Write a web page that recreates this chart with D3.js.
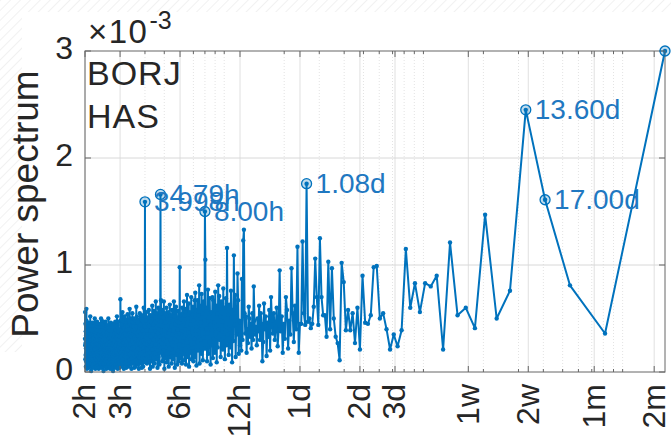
<!DOCTYPE html>
<html><head><meta charset="utf-8">
<script src="https://cdn.jsdelivr.net/npm/d3@7"></script>
<style>
body{margin:0;background:#fff}
svg{display:block}
text{font-family:"Liberation Sans",Arial,Helvetica,sans-serif}
</style>
</head><body>
<svg id="chart" width="671" height="438"></svg>
<script>
// Record length in hours (68 days); harmonic k has period recordHours / k.
const recordHours = 1632;

// Periodogram power for harmonics k = 1 .. 816, in units of 1e-5.
const powerE5 = [
  // k = 1 .. 70 (periods longer than ~1 day)
  300,36,81,161,245,76,50,147,41,60,
  53,121,21,90,80,83,56,83,60,115,
  39,24,35,21,40,55,50,99,98,53,
  45,46,90,21,60,27,55,39,58,39,
  84,102,11,27,33,50,97,40,103,33,
  53,53,70,125,44,70,106,61,45,41,
  50,47,176,44,55,122,45,45,18,117,
  // k = 71 .. 136 (12 h .. 1 d)
  40,62,28,55,97,35,48,22,58,70,
  31,45,18,52,38,95,40,24,60,42,
  30,55,36,48,70,20,58,33,46,15,
  52,40,64,28,10,45,55,30,62,38,
  50,25,42,35,48,80,30,55,22,45,
  33,50,61,27,40,18,52,36,55,133,
  123,30,87,20,46,25,
  // k = 137 .. 204 (8 h .. 12 h)
  48,17,67,92,35,52,14,72,44,109,
  29,58,9,51,76,23,40,63,16,54,
  35,116,25,69,43,12,60,32,78,21,
  47,38,66,14,52,30,71,40,81,23,
  55,9,62,35,75,18,46,31,67,13,
  70,39,25,56,7,44,69,28,51,17,
  77,36,10,60,41,22,105,150,
  // k = 205 .. 272 (6 h .. 8 h)
  48,22,66,32,11,55,40,73,17,46,
  30,62,8,81,36,53,20,67,28,42,
  6,58,35,74,14,67,31,48,10,61,
  23,41,54,12,70,26,44,18,56,34,
  5,64,37,24,50,14,72,30,43,7,
  59,22,40,53,11,66,32,17,47,25,
  60,8,38,54,19,35,49,13,
  // k = 273 .. 408 (4 h .. 6 h)
  98,26,46,10,36,57,20,40,7,51,
  29,16,61,34,23,44,4,52,31,66,
  18,38,12,48,25,58,35,8,43,21,
  53,30,14,63,39,22,47,5,36,56,
  26,17,49,33,9,60,29,40,13,46,
  23,55,34,3,39,66,20,31,51,16,
  35,10,58,27,43,18,67,38,166,47,
  23,33,7,52,29,40,14,60,25,36,
  4,48,31,20,55,12,42,66,26,17,
  46,34,8,51,22,38,57,13,30,44,
  5,35,62,21,27,49,10,39,25,53,
  16,33,3,47,29,18,43,58,23,9,
  36,51,14,31,46,21,8,39,26,56,
  17,35,12,48,27,159,
  // k = 409 .. 544 (3 h .. 4 h)
  33,16,43,9,26,60,20,36,5,47,
  23,13,39,29,4,53,18,33,12,44,
  25,8,35,17,55,27,10,40,21,3,
  49,31,14,38,7,46,22,34,16,52,
  26,9,61,30,18,42,5,36,25,12,
  48,20,31,4,39,14,50,23,34,8,
  43,27,17,55,10,35,21,46,3,29,
  39,13,50,22,7,33,18,44,59,26,
  9,38,16,47,30,5,40,23,12,35,
  54,20,31,8,43,14,26,49,4,34,
  21,39,10,29,46,17,7,36,25,52,
  13,31,3,42,22,35,9,47,18,27,
  56,12,39,23,5,33,16,44,26,8,
  38,21,48,68,14,30,
  // k = 545 .. 816 (2 h .. 3 h)
  25,10,35,18,4,29,40,13,22,7,
  33,47,16,26,3,38,20,9,30,52,
  14,23,5,34,17,43,12,27,21,8,
  47,18,31,4,25,39,13,22,10,36,
  16,45,7,29,20,1,34,23,12,42,
  17,26,45,9,31,21,5,38,14,25,
  46,8,30,18,35,3,22,13,44,27,
  10,33,17,7,39,21,29,12,50,16,
  25,4,35,20,9,31,43,14,23,8,
  36,18,26,3,44,13,30,21,10,34,
  47,17,25,5,40,22,12,29,18,46,
  8,33,16,23,1,38,20,27,10,44,
  14,25,7,35,17,31,48,12,21,4,
  29,39,16,50,23,9,33,18,26,5,
  43,13,22,36,8,27,17,45,10,31,
  20,3,38,14,25,34,9,18,42,12,
  29,21,4,35,16,47,23,8,30,13,
  39,20,7,26,17,45,10,33,22,3,
  36,14,27,18,50,9,25,12,34,21,
  5,40,16,29,23,8,44,13,31,20,
  4,38,17,26,10,46,22,14,33,7,
  25,39,18,12,30,1,35,21,16,43,
  9,27,20,52,13,23,5,34,17,29,
  10,40,22,8,31,14,36,4,26,18,
  46,12,25,33,7,21,39,16,29,9,
  35,20,3,43,23,13,30,48,59,18,
  10,34,22,5,38,16,27,45,12,25,
  56,31
];

// Axis ticks
const xTickHours  = [2, 3, 6, 12, 24, 48, 72, 168, 336, 720, 1440];
const xTickLabels = ["2h", "3h", "6h", "12h", "1d", "2d", "3d", "1w", "2w", "1m", "2m"];
const yTickValues = [0, 1e-3, 2e-3, 3e-3];
const yTickLabels = ["0", "1", "2", "3"];

// Highlighted spectral peaks (harmonic number) and their period labels;
// the 68-day peak sits on the right edge and carries no visible label.
const peakHarmonics = [1, 4, 5, 63, 204, 341, 408];
const peakLabels    = [null, "17.00d", "13.60d", "1.08d", "8.00h", "4.79h", "3.998h"];

// Station / component annotation
const stationLines = ["BORJ", "HAS"];

const BLUE = "#0072BD";
const INK = "#262626";
const svg = d3.select("#chart");

const x = d3.scaleLog().domain([2, recordHours]).range([85, 665]);
const y = d3.scaleLinear().domain([0, 3e-3]).range([372, 51]);
const [x0, x1] = x.range();
const [yb, yt] = y.range();

const series = powerE5.map((v, i) => ({ period: recordHours / (i + 1), power: v * 1e-5 }));

// faint hatched paper texture along the top and left margins
const defs = svg.append("defs");
const pat = defs.append("pattern").attr("id", "hatch").attr("patternUnits", "userSpaceOnUse")
  .attr("width", 7).attr("height", 7).attr("patternTransform", "rotate(45)");
pat.append("line").attr("x1", 0).attr("y1", 0).attr("x2", 0).attr("y2", 7)
  .attr("stroke", "#d9d9d9").attr("stroke-width", 1.2);
svg.append("rect").attr("x", 0).attr("y", 0).attr("width", 671).attr("height", 12).attr("fill", "url(#hatch)").attr("opacity", 0.6);
svg.append("rect").attr("x", 0).attr("y", 12).attr("width", 22).attr("height", 340).attr("fill", "url(#hatch)").attr("opacity", 0.6);

// grid
const minorHours = x.ticks().filter(t => !xTickHours.includes(t));
const grid = svg.append("g");
grid.selectAll("line.minor").data(minorHours).join("line")
  .attr("x1", d => x(d)).attr("x2", d => x(d)).attr("y1", yt).attr("y2", yb)
  .attr("stroke", "#e3e3e3").attr("stroke-width", 1).attr("stroke-dasharray", "1,2");
grid.selectAll("line.vmaj").data(xTickHours).join("line")
  .attr("x1", d => x(d)).attr("x2", d => x(d)).attr("y1", yt).attr("y2", yb)
  .attr("stroke", "#e0e0e0").attr("stroke-width", 1);
grid.selectAll("line.hmaj").data(yTickValues.slice(1, -1)).join("line")
  .attr("x1", x0).attr("x2", x1).attr("y1", d => y(d)).attr("y2", d => y(d))
  .attr("stroke", "#d8d8d8").attr("stroke-width", 1);

// spectrum line with point markers
const plot = svg.append("g");
plot.append("path").datum(series)
  .attr("d", d3.line().x(d => x(d.period)).y(d => y(d.power)))
  .attr("fill", "none").attr("stroke", BLUE).attr("stroke-width", 2).attr("stroke-linejoin", "round");
plot.selectAll("circle.pt").data(series).join("circle")
  .attr("cx", d => x(d.period)).attr("cy", d => y(d.power)).attr("r", 2.2).attr("fill", BLUE);

// box and ticks
const axis = svg.append("g").attr("stroke", "#666").attr("fill", "none");
axis.append("rect").attr("x", x0).attr("y", yt).attr("width", x1 - x0).attr("height", yb - yt).attr("stroke-width", 1);
xTickHours.forEach(h => {
  axis.append("line").attr("x1", x(h)).attr("x2", x(h)).attr("y1", yb).attr("y2", yb - 6);
  axis.append("line").attr("x1", x(h)).attr("x2", x(h)).attr("y1", yt).attr("y2", yt + 6);
});
minorHours.forEach(h => {
  axis.append("line").attr("x1", x(h)).attr("x2", x(h)).attr("y1", yb).attr("y2", yb - 3);
  axis.append("line").attr("x1", x(h)).attr("x2", x(h)).attr("y1", yt).attr("y2", yt + 3);
});
yTickValues.forEach(v => {
  axis.append("line").attr("x1", x0).attr("x2", x0 + 6).attr("y1", y(v)).attr("y2", y(v));
  axis.append("line").attr("x1", x1).attr("x2", x1 - 6).attr("y1", y(v)).attr("y2", y(v));
});

// peak markers and labels
const peaks = peakHarmonics.map((k, i) => ({ ...series[k - 1], label: peakLabels[i] }));
const pk = svg.append("g");
pk.selectAll("circle").data(peaks).join("circle")
  .attr("cx", d => x(d.period)).attr("cy", d => y(d.power)).attr("r", 5)
  .attr("fill", "rgba(0,114,189,0.25)").attr("stroke", BLUE).attr("stroke-width", 1.3);
pk.selectAll("text").data(peaks.filter(d => d.label)).join("text")
  .attr("x", d => x(d.period) + 9).attr("y", d => y(d.power) + 2)
  .attr("dominant-baseline", "middle")
  .attr("font-size", 28).attr("fill", "#1f78c1").text(d => d.label);

// tick labels
svg.append("g").selectAll("text").data(xTickHours).join("text")
  .attr("transform", d => `translate(${x(d) + 2},384) rotate(-90)`)
  .attr("text-anchor", "end").attr("dominant-baseline", "middle")
  .attr("font-size", 32).attr("fill", INK)
  .text((d, i) => xTickLabels[i]);
svg.append("g").selectAll("text").data(yTickValues).join("text")
  .attr("x", 73).attr("y", d => y(d)).attr("text-anchor", "end").attr("dominant-baseline", "middle")
  .attr("font-size", 32).attr("fill", INK)
  .text((d, i) => yTickLabels[i]);

// exponent
const ex = svg.append("text").attr("x", 88).attr("y", 43).attr("font-size", 33).attr("fill", INK);
ex.append("tspan").attr("letter-spacing", 1.5).text("\u00d710");
ex.append("tspan").attr("dx", 1).attr("dy", -14).attr("font-size", 25).text("-3");

// axis title
svg.append("text").attr("transform", "translate(38,204) rotate(-90)")
  .attr("text-anchor", "middle").attr("font-size", 37).attr("fill", INK)
  .text("Power spectrum");

// station annotation
svg.append("g").selectAll("text").data(stationLines).join("text")
  .attr("x", 87).attr("y", (d, i) => 85 + i * 43)
  .attr("font-size", 34).attr("letter-spacing", 1).attr("fill", INK).text(d => d);
</script>
</body></html>
